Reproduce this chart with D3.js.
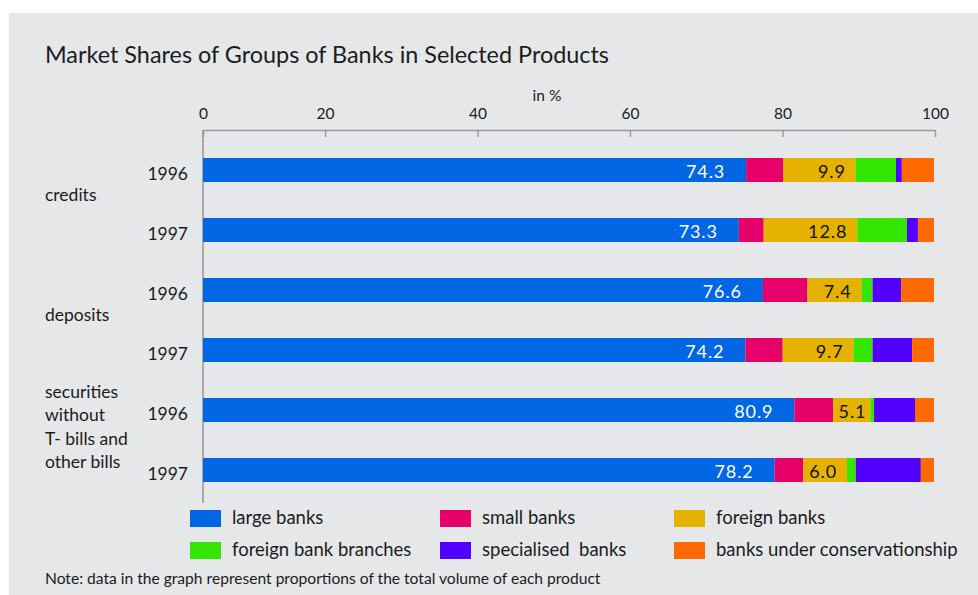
<!DOCTYPE html>
<html>
<head>
<meta charset="utf-8">
<script src="https://cdn.jsdelivr.net/npm/d3@7/dist/d3.min.js"></script>
<style>
  html, body { margin: 0; padding: 0; background: #ffffff; }
  svg { display: block; font-family: Lato, "Open Sans", sans-serif; }
</style>
</head>
<body>
<svg id="chart" width="978" height="595"></svg>
<script>
// Products and years shown as rows
const products = ["credits", "deposits", "securities without T- bills and other bills"];
const productLines = [["credits"], ["deposits"], ["securities", "without", "T- bills and", "other bills"]];
const years = ["1996", "1997"];

// Groups of banks (stack order, left to right)
const groups = ["large banks", "small banks", "foreign banks", "foreign bank branches", "specialised  banks", "banks under conservationship"];
const groupColors = ["#0066e3", "#e5006a", "#e6b200", "#33e600", "#5200ff", "#ff6a00"];

// Market shares in %, one array per group, rows: credits 96/97, deposits 96/97, securities 96/97
const largeBanks      = [74.3, 73.3, 76.6, 74.2, 80.9, 78.2];
const smallBanks      = [5.1, 3.4, 6.1, 5.1, 5.3, 3.9];
const foreignBanks    = [9.9, 12.8, 7.4, 9.7, 5.1, 6.0];
const foreignBranches = [5.5, 6.8, 1.5, 2.6, 0.5, 1.2];
const specialised     = [0.8, 1.5, 3.9, 5.4, 5.6, 8.9];
const conservation    = [4.4, 2.2, 4.5, 3.0, 2.6, 1.8];

// Axis tick labels
const tickValues = [0, 20, 40, 60, 80, 100];

const title = "Market Shares of Groups of Banks in Selected Products";
const unitLabel = "in %";
const note = "Note: data in the graph represent proportions of the total volume of each product";

// ---- build rows ----
const series = [largeBanks, smallBanks, foreignBanks, foreignBranches, specialised, conservation];
const rows = [];
products.forEach((p, pi) => years.forEach((y, yi) => {
  const idx = pi * years.length + yi;
  const row = { id: p + "|" + y, product: p, year: y };
  groups.forEach((g, gi) => { row[g] = series[gi][idx]; });
  rows.push(row);
}));

const svg = d3.select("#chart");
const textColor = "#1c1c1c";
const axisColor = "#9a9a9a";

// background panel
svg.append("rect").attr("x", 9).attr("y", 13).attr("width", 969).attr("height", 582).attr("fill", "#e6e7e9");

// scales
const x = d3.scaleLinear().domain([0, 100]).range([203, 934]);
// top axis: the 0 label sits at the origin, 20..100 evenly spaced over the rest
const xTicks = d3.scaleLinear().domain([0, 20, 100]).range([203, 203 + 732 / 6, 935]);
const y = d3.scaleBand().domain(rows.map(r => r.id)).range([128, 512]).paddingInner(0.6).paddingOuter(0.5);
const color = d3.scaleOrdinal().domain(groups).range(groupColors);

// title
svg.append("text").attr("x", 45).attr("y", 63).attr("font-size", 23.4).attr("fill", textColor).text(title);
svg.append("text").attr("x", 547).attr("y", 101).attr("text-anchor", "middle").attr("font-size", 15.5).attr("fill", textColor).text(unitLabel);

// top axis
const axisG = svg.append("g").attr("transform", "translate(0,130)")
  .call(d3.axisTop(xTicks).tickValues(tickValues).tickSizeInner(-7).tickSizeOuter(0).tickPadding(11).tickFormat(d3.format("d")));
axisG.select(".domain").attr("stroke", axisColor).attr("stroke-width", 1.6);
axisG.selectAll(".tick line").attr("stroke", axisColor).attr("stroke-width", 1.4);
axisG.selectAll(".tick text").attr("fill", textColor).attr("font-size", 15.5).attr("font-family", "Lato, sans-serif");

// vertical axis line
svg.append("line").attr("x1", x(0)).attr("x2", x(0)).attr("y1", 130).attr("y2", 503)
  .attr("stroke", axisColor).attr("stroke-width", 1.6);

// stacked bars
const stacked = d3.stack().keys(groups)(rows);
const layers = svg.append("g").selectAll("g").data(stacked).join("g").attr("fill", d => color(d.key));
layers.selectAll("rect").data(d => d).join("rect")
  .attr("x", d => x(d[0]))
  .attr("width", d => x(d[1]) - x(d[0]))
  .attr("y", d => y(d.data.id))
  .attr("height", y.bandwidth());

// value labels on large banks (white) and foreign banks (dark)
const labelLayers = [
  { key: groups[0], fill: "#ffffff", offset: () => 21 },
  { key: groups[2], fill: "#111111", offset: w => (w < 40 ? 4 : 10) }
];
labelLayers.forEach(L => {
  const layer = stacked.find(s => s.key === L.key);
  svg.append("g").selectAll("text").data(layer).join("text")
    .attr("x", d => x(d[1]) - L.offset(x(d[1]) - x(d[0])))
    .attr("y", d => y(d.data.id) + y.bandwidth() / 2 + 8)
    .attr("text-anchor", "end")
    .attr("font-size", 18)
    .attr("letter-spacing", 0.9)
    .attr("fill", L.fill)
    .text(d => d3.format(".1f")(d.data[L.key]));
});

// year labels
svg.append("g").selectAll("text").data(rows).join("text")
  .attr("x", 188)
  .attr("y", d => y(d.id) + y.bandwidth() / 2 + 10)
  .attr("text-anchor", "end")
  .attr("font-size", 17.5)
  .attr("fill", textColor)
  .text(d => d.year);

// product labels, centred between their two year rows
products.forEach((p, pi) => {
  const ids = years.map(yr => p + "|" + yr);
  const mid = (y(ids[0]) + y(ids[ids.length - 1]) + y.bandwidth()) / 2;
  const lines = productLines[pi];
  const n = lines.length;
  const t = svg.append("text").attr("font-size", 17.5).attr("fill", textColor);
  lines.forEach((ln, i) => {
    t.append("tspan").attr("x", 45)
      .attr("y", mid + 1 + (i - (n - 1) / 2) * 23.3 - (n - 1) * 2.7)
      .text(ln);
  });
});

// legend, three columns by two rows
const legendCols = [190, 440, 674];
const legendRows = [510, 542];
const legend = svg.append("g").selectAll("g").data(groups).join("g")
  .attr("transform", (d, i) => `translate(${legendCols[i % 3]},${legendRows[Math.floor(i / 3)]})`);
legend.append("rect").attr("width", 31).attr("height", 17).attr("fill", d => color(d));
legend.append("text").attr("x", 42).attr("y", 13.5).attr("font-size", 18.5).attr("fill", textColor)
  .style("white-space", "pre").text(d => d);

// note
svg.append("text").attr("x", 45).attr("y", 584).attr("font-size", 15.6).attr("fill", textColor).text(note);
</script>
</body>
</html>
